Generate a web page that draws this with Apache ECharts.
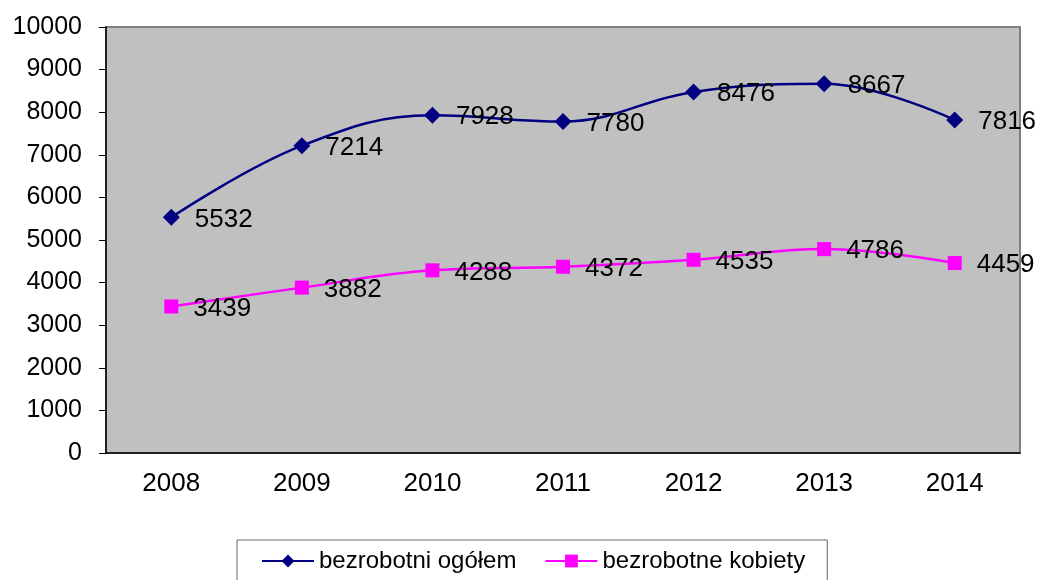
<!DOCTYPE html>
<html>
<head>
<meta charset="utf-8">
<script src="https://cdn.jsdelivr.net/npm/echarts@6/dist/echarts.min.js"></script>
<style>
html, body { margin: 0; padding: 0; background: #fff; }
#chart { width: 1038px; height: 580px; }
</style>
</head>
<body>
<div id="chart"></div>
<script>
var years = ['2008', '2009', '2010', '2011', '2012', '2013', '2014'];
var ogolem = [5532, 7214, 7928, 7780, 8476, 8667, 7816];
var kobiety = [3439, 3882, 4288, 4372, 4535, 4786, 4459];
var yTicks = { min: 0, max: 10000, interval: 1000 };

var chart = echarts.init(document.getElementById('chart'));
var font = 'Liberation Sans, Arial, sans-serif';

function lineSeries(name, data, color, symbol, size) {
    return {
        name: name,
        type: 'line',
        data: data,
        smooth: 0.4,
        symbol: symbol,
        symbolSize: size,
        lineStyle: { color: color, width: 2.5 },
        itemStyle: { color: color },
        label: {
            show: true,
            position: 'right',
            distance: 15,
            offset: [0, 2],
            color: '#000',
            fontSize: 26,
            fontFamily: font
        }
    };
}

chart.setOption({
    animation: false,
    textStyle: { fontFamily: font },
    grid: {
        left: 106, top: 27, right: 18, bottom: 127,
        show: true,
        backgroundColor: '#C0C0C0',
        borderColor: '#808080',
        borderWidth: 2
    },
    legend: {
        left: 237,
        top: 540,
        padding: [9, 22, 20, 24],
        itemGap: 28,
        itemWidth: 52,
        itemHeight: 16,
        borderColor: '#666',
        borderWidth: 1,
        textStyle: { fontSize: 24, color: '#000', fontFamily: font },
        data: ['bezrobotni ogółem', 'bezrobotne kobiety']
    },
    xAxis: {
        type: 'category',
        data: years,
        axisLine: { lineStyle: { color: '#000', width: 1.5 } },
        axisTick: { length: 7, lineStyle: { color: '#000' } },
        axisLabel: { fontSize: 26, color: '#000', margin: 18 }
    },
    yAxis: {
        type: 'value',
        min: yTicks.min,
        max: yTicks.max,
        interval: yTicks.interval,
        axisLine: { show: true, lineStyle: { color: '#000', width: 1.5 } },
        axisTick: { show: true, length: 7, lineStyle: { color: '#000' } },
        splitLine: { show: false },
        axisLabel: { fontSize: 25, color: '#000', margin: 24, formatter: function (v) { return String(v); } }
    },
    series: [
        lineSeries('bezrobotni ogółem', ogolem, '#000080', 'diamond', 17),
        lineSeries('bezrobotne kobiety', kobiety, '#FF00FF', 'rect', 14)
    ]
});
</script>
</body>
</html>
